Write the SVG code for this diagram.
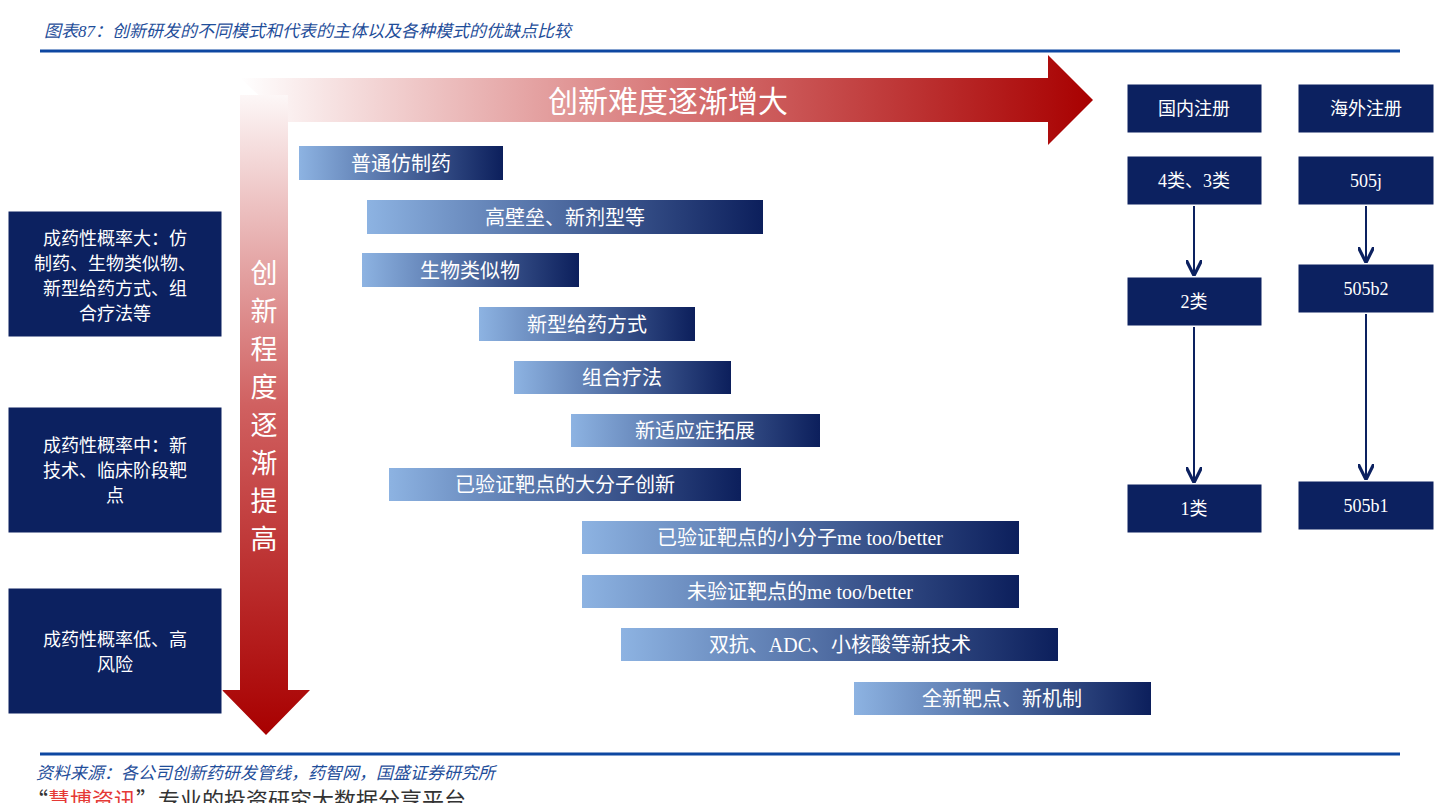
<svg xmlns="http://www.w3.org/2000/svg" width="1440" height="803" viewBox="0 0 1440 803">
<style>
text{font-family:"Liberation Serif","Noto Sans CJK SC",serif}
.bt{fill:#fff;font-size:20px;text-anchor:middle;dominant-baseline:central}
.nb{fill:#0C2160;stroke:#fff;stroke-width:1}
.lt{fill:#fff;font-size:18px;text-anchor:middle}
.cap{fill:#1F4E9A;font-style:italic;font-size:17px}
</style>
<defs>
<linearGradient id="bar" x1="0" y1="0" x2="1" y2="0"><stop offset="0" stop-color="#8DB3E2"/><stop offset="1" stop-color="#0C1F5C"/></linearGradient>
<linearGradient id="hr" x1="240" y1="0" x2="1093" y2="0" gradientUnits="userSpaceOnUse"><stop offset="0" stop-color="#fff"/><stop offset="0.5" stop-color="#D87878"/><stop offset="1" stop-color="#A80000"/></linearGradient>
<linearGradient id="vr" x1="0" y1="78" x2="0" y2="735" gradientUnits="userSpaceOnUse"><stop offset="0" stop-color="#fff"/><stop offset="0.5" stop-color="#D06060"/><stop offset="1" stop-color="#A80000"/></linearGradient>
<marker id="ar" viewBox="0 0 10 10" refX="9" refY="5" markerWidth="8" markerHeight="8" orient="auto"><path d="M0,0 L10,5 L0,10" fill="none" stroke="#0C2160" stroke-width="2"/></marker>
</defs>
<rect width="1440" height="803" fill="#fff"/>
<text x="44" y="37" class="cap" font-size="18">图表87：创新研发的不同模式和代表的主体以及各种模式的优缺点比较</text>
<line x1="40" y1="51" x2="1400" y2="51" stroke="#0D47A1" stroke-width="3"/>
<g id="arrows-big">
<path d="M240,78 H1048 V55 L1093,100 L1048,145 V122 H288 Z" fill="url(#hr)"/>
<path d="M240,95 H288 V690 H310 L266,735 L222,690 H240 Z" fill="url(#vr)"/>
<text x="668" y="112" fill="#fff" font-size="30" text-anchor="middle">创新难度逐渐增大</text>
<g fill="#fff" font-size="27" text-anchor="middle">
<text x="264" y="283">创</text><text x="264" y="321">新</text><text x="264" y="359">程</text><text x="264" y="397">度</text><text x="264" y="435">逐</text><text x="264" y="473">渐</text><text x="264" y="511">提</text><text x="264" y="549">高</text>
</g>
</g>
<g id="bars">
<g id="b1"><rect x="299" y="146" width="204" height="34" fill="url(#bar)"/><text class="bt" x="401" y="164">普通仿制药</text></g>
<g id="b2"><rect x="367" y="200" width="396" height="34" fill="url(#bar)"/><text class="bt" x="565" y="218">高壁垒、新剂型等</text></g>
<g id="b3"><rect x="362" y="253" width="217" height="34" fill="url(#bar)"/><text class="bt" x="470" y="271">生物类似物</text></g>
<g id="b4"><rect x="479" y="307" width="216" height="34" fill="url(#bar)"/><text class="bt" x="587" y="325">新型给药方式</text></g>
<g id="b5"><rect x="514" y="361" width="217" height="33" fill="url(#bar)"/><text class="bt" x="622" y="378">组合疗法</text></g>
<g id="b6"><rect x="571" y="414" width="249" height="33" fill="url(#bar)"/><text class="bt" x="695" y="431">新适应症拓展</text></g>
<g id="b7"><rect x="389" y="468" width="352" height="33" fill="url(#bar)"/><text class="bt" x="565" y="485">已验证靶点的大分子创新</text></g>
<g id="b8"><rect x="582" y="521" width="437" height="33" fill="url(#bar)"/><text class="bt" x="800" y="538">已验证靶点的小分子me too/better</text></g>
<g id="b9"><rect x="582" y="575" width="437" height="33" fill="url(#bar)"/><text class="bt" x="800" y="592">未验证靶点的me too/better</text></g>
<g id="b10"><rect x="621" y="628" width="437" height="33" fill="url(#bar)"/><text class="bt" x="840" y="645">双抗、ADC、小核酸等新技术</text></g>
<g id="b11"><rect x="854" y="682" width="297" height="33" fill="url(#bar)"/><text class="bt" x="1002" y="699">全新靶点、新机制</text></g>
</g>
<g id="left">
<g id="l1"><rect class="nb" x="8" y="211" width="214" height="126"/><text class="lt"><tspan x="115" y="245">成药性概率大：仿</tspan><tspan x="115" y="270">制药、生物类似物、</tspan><tspan x="115" y="295">新型给药方式、组</tspan><tspan x="115" y="320">合疗法等</tspan></text></g>
<g id="l2"><rect class="nb" x="8" y="407" width="214" height="126"/><text class="lt"><tspan x="115" y="452">成药性概率中：新</tspan><tspan x="115" y="477">技术、临床阶段靶</tspan><tspan x="115" y="502">点</tspan></text></g>
<g id="l3"><rect class="nb" x="8" y="588" width="214" height="126"/><text class="lt"><tspan x="115" y="646">成药性概率低、高</tspan><tspan x="115" y="671">风险</tspan></text></g>
</g>
<g id="right">
<g id="r1"><rect class="nb" x="1127" y="84" width="135" height="49"/><text class="lt" x="1194" y="115">国内注册</text></g>
<g id="r2"><rect class="nb" x="1298" y="84" width="136" height="49"/><text class="lt" x="1366" y="115">海外注册</text></g>
<g id="r3"><rect class="nb" x="1127" y="156" width="135" height="49"/><text class="lt" x="1194" y="187">4类、3类</text></g>
<g id="r4"><rect class="nb" x="1298" y="156" width="136" height="49"/><text class="lt" x="1366" y="187">505j</text></g>
<g id="r5"><rect class="nb" x="1127" y="277" width="135" height="49"/><text class="lt" x="1194" y="308">2类</text></g>
<g id="r6"><rect class="nb" x="1298" y="264" width="136" height="49"/><text class="lt" x="1366" y="295">505b2</text></g>
<g id="r7"><rect class="nb" x="1127" y="484" width="135" height="49"/><text class="lt" x="1194" y="515">1类</text></g>
<g id="r8"><rect class="nb" x="1298" y="481" width="136" height="49"/><text class="lt" x="1366" y="512">505b1</text></g>
</g>
<g id="connectors" stroke="#0C2160" stroke-width="2" marker-end="url(#ar)">
<line x1="1194" y1="206" x2="1194" y2="274"/>
<line x1="1194" y1="327" x2="1194" y2="481"/>
<line x1="1366" y1="206" x2="1366" y2="261"/>
<line x1="1366" y1="314" x2="1366" y2="478"/>
</g>
<line x1="40" y1="754" x2="1400" y2="754" stroke="#0D47A1" stroke-width="3"/>
<text x="36" y="779" class="cap">资料来源：各公司创新药研发管线，药智网，国盛证券研究所</text>
<text x="26" y="808" font-size="22" fill="#333" style="font-family:'Noto Sans CJK SC',sans-serif">“<tspan fill="#E53935">慧博资讯</tspan>”专业的投资研究大数据分享平台</text>
</svg>
